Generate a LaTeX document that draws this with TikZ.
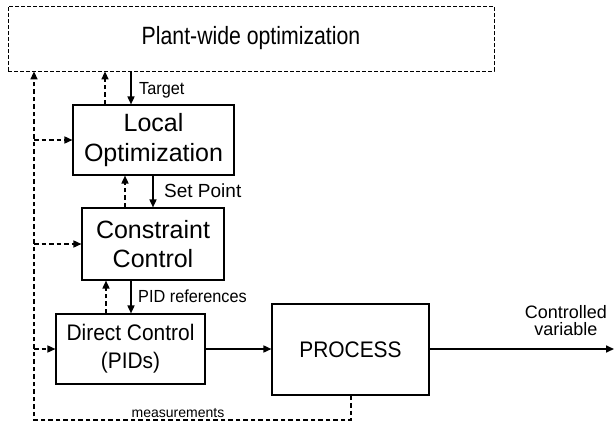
\documentclass[tikz,border=0pt]{standalone}
\usepackage{fontspec}
\setmainfont{Liberation Sans}
\newfontfamily\plantfont[FakeStretch=0.85]{Liberation Sans}
\newfontfamily\narrowfont[FakeStretch=0.93]{Liberation Sans}
\usetikzlibrary{arrows.meta}
\begin{document}
\begin{tikzpicture}[x=1pt,y=-1pt,
  box/.style={draw,line width=1.1pt,align=center,inner sep=0pt},
  bigtext/.style={font=\fontsize{25}{29.5}\selectfont},
  midtext/.style={font=\narrowfont\fontsize{22.5}{28}\selectfont},
  lbl/.style={inner sep=0pt},
  sarrow/.style={line width=1.6pt,-{Triangle[length=8pt,width=7pt]}},
  darrow/.style={line width=1.5pt,dash pattern=on 4.5pt off 3pt,-{Triangle[length=8pt,width=7pt]}}]
\useasboundingbox (0,0) rectangle (614,426);
\node[draw,line width=0.8pt,dash pattern=on 4pt off 2pt,minimum width=486pt,minimum height=65pt,font=\plantfont\fontsize{25}{29}\selectfont] (plant) at (251,38.5) {Plant-wide optimization};
\node[box,bigtext,minimum width=161pt,minimum height=70pt] (local) at (153.5,140) {Local\\Optimization};
\node[box,bigtext,minimum width=142pt,minimum height=72pt] (constr) at (153,244) {Constraint\\Control};
\node[box,midtext,minimum width=149pt,minimum height=70pt] (direct) at (130.5,349) {Direct Control\\(PIDs)};
\node[box,midtext,minimum width=157pt,minimum height=91pt] (process) at (350.5,349.5) {PROCESS};
% x positions
\coordinate (xT) at (131,0);
\coordinate (xS) at (153,0);
\coordinate (xP) at (131,0);
\coordinate (xU1) at (105,0);
\coordinate (xU2) at (125,0);
\coordinate (xU3) at (106,0);
\coordinate (xL) at (34,0);
\coordinate (xM) at (351,0);
\coordinate (out) at (614,349);
\coordinate (corner1) at (351,420);
\coordinate (corner2) at (34,420);
% downward solid arrows
\draw[sarrow] (xT |- plant.south) -- (xT |- local.north);
\draw[sarrow] (xS |- local.south) -- (xS |- constr.north);
\draw[sarrow] (xP |- constr.south) -- (xP |- direct.north);
% upward dashed arrows
\draw[darrow] (xU1 |- local.north) -- (xU1 |- plant.south);
\draw[darrow] (xU2 |- constr.north) -- (xU2 |- local.south);
\draw[darrow] (xU3 |- direct.north) -- (xU3 |- constr.south);
% measurements feedback
\draw[darrow] (xM |- process.south) -- (corner1) -- (corner2) -- (xL |- plant.south);
\draw[darrow] (xL |- local.west) -- (local.west);
\draw[darrow] (xL |- constr.west) -- (constr.west);
\draw[darrow] (xL |- direct.west) -- (direct.west);
% forward path
\draw[sarrow] (direct.east) -- (direct.east -| process.west);
\draw[sarrow] (process.east |- out) -- (out);
% labels
\node[lbl,anchor=west,font=\narrowfont\fontsize{17.5}{20}\selectfont] (tTarget) at (139,90) {Target};
\node[lbl,anchor=west,font=\fontsize{19}{21}\selectfont] (tSet) at (164,191) {Set Point};
\node[lbl,anchor=west,font=\narrowfont\fontsize{17.5}{20}\selectfont] (tPID) at (138,296) {PID references};
\node[lbl,align=center,font=\fontsize{18}{17}\selectfont,anchor=base] (tCV) at (566,335) {Controlled\\variable};
\node[lbl,font=\fontsize{14}{16}\selectfont,anchor=base] (tMeas) at (178,417) {measurements};
\end{tikzpicture}
\end{document}
